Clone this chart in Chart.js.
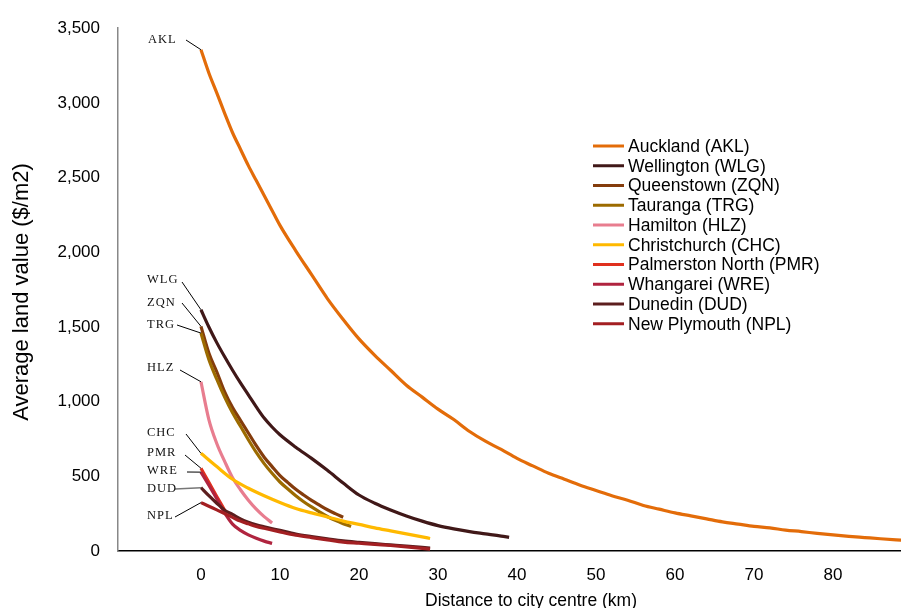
<!DOCTYPE html>
<html>
<head>
<meta charset="utf-8">
<script src="https://cdn.jsdelivr.net/npm/chart.js@4.4.1/dist/chart.umd.min.js"></script>
<style>
	html, body { margin: 0; padding: 0; background: #fff; }
	#wrap { width: 901px; height: 608px; }
</style>
</head>
<body>
<div id="wrap"><canvas id="chart" width="901" height="608"></canvas></div>
<script>
// distances (km) and average land values ($/m2)
const aklKm = [0,1,2,3,4,5,6,7,8,9,10,12,14,16,18,20,22,24,26,28,30,32,34,36,38,40,42,44,46,48,50,52,54,56,58,60,62,64,66,68,70,72,74,76,78,80,82,84,86,88,89];
const aklVal = [3356,3200,3067,2930,2800,2690,2580,2480,2380,2280,2180,2010,1850,1690,1550,1420,1310,1210,1110,1030,950,880,800,735,680,620,570,520,480,440,405,370,340,305,280,255,235,215,195,180,165,155,140,130,118,108,98,90,82,75,72];

const wlgKm = [0,1,2,3,4,5,6,7,8,9,10,12,14,16,18,20,22,24,26,28,30,32,34,36,38,39];
const wlgVal = [1615,1500,1395,1300,1210,1125,1045,965,890,830,778,695,620,540,455,375,320,275,235,200,170,148,130,115,100,91];

const zqnKm = [0,1,2,3,4,5,6,7,8,9,10,11,12,13,14,15,16,17,18];
const zqnVal = [1504,1325,1200,1065,960,875,790,705,628,565,505,458,413,375,339,307,276,250,226];

const trgKm = [0,1,2,3,4,5,6,7,8,9,10,11,12,13,14,15,16,17,18,19];
const trgVal = [1459,1282,1150,1030,925,835,745,660,585,520,462,415,370,330,295,262,231,205,183,164];

const hlzKm = [0,1,2,3,4,5,6,7,8,9];
const hlzVal = [1133,880,720,600,490,410,340,280,230,188];

const chcKm = [0,2,4,6,8,10,12,14,16,18,20,22,24,26,28,29];
const chcVal = [654,565,480,420,370,325,285,255,228,200,178,155,135,115,95,84];

const pmrKm = [0,1,2,3];
const pmrVal = [554,460,365,273];

const wreKm = [0,1,2,3,4,5,6,7,8,9];
const wreVal = [528,440,350,255,180,138,108,85,66,51];

const dudKm = [0,1,2,3,4,5,6,7,8,10,12,14,16,18,20,22,24,26,28,29];
const dudVal = [424,370,320,273,245,215,192,175,162,138,114,97,82,68,58,49,41,33,24,19];

const nplKm = [0,1,2,3,4,5,6,7,8,10,12,14,16,18,20,22,24,26,28,29];
const nplVal = [324,300,275,251,225,200,182,165,152,128,106,90,75,60,52,44,37,28,18,13];

const cityNames = ["Auckland (AKL)","Wellington (WLG)","Queenstown (ZQN)","Tauranga (TRG)","Hamilton (HLZ)","Christchurch (CHC)","Palmerston North (PMR)","Whangarei (WRE)","Dunedin (DUD)","New Plymouth (NPL)"];
const cityCodes = ["AKL","WLG","ZQN","TRG","HLZ","CHC","PMR","WRE","DUD","NPL"];
const cityColors = ["#E36C09","#401818","#843C0C","#9C6B00","#E87D8F","#FFB900","#E0301E","#B0243F","#5C1E1E","#A31F22"];
const kmLists = [aklKm, wlgKm, zqnKm, trgKm, hlzKm, chcKm, pmrKm, wreKm, dudKm, nplKm];
const valLists = [aklVal, wlgVal, zqnVal, trgVal, hlzVal, chcVal, pmrVal, wreVal, dudVal, nplVal];

const xTicks = [0,10,20,30,40,50,60,70,80];
const yTitle = "Average land value ($/m2)";
const xTitle = "Distance to city centre (km)";

// where the code labels sit and where their leader lines start
const labelSpots = [[148,40,186,40],[147,280,182,282],[147,303,182,303],[147,325,177,325],[147,368,180,370],[147,433,186,434],[147,453,185,455],[147,471,187,472],[147,489,175,489],[147,516,175,517]];

function toPoints(km, val) {
	return km.map((k, i) => {
		return { x: k, y: val[i] };
	});
}

let datasets = [];
cityNames.forEach((name, i) => {
	datasets.push({
		label: name,
		data: toPoints(kmLists[i], valLists[i]),
		borderColor: cityColors[i],
		backgroundColor: cityColors[i],
		borderWidth: 3.2,
		pointRadius: 0,
		cubicInterpolationMode: 'monotone',
		fill: false,
		order: 10 - i
	});
});

const overlay = {
	id: 'overlay',
	afterDraw(chart) {
		const ctx = chart.ctx;
		const xs = chart.scales.x;
		const ys = chart.scales.y;
		ctx.save();
		// leader lines + code labels
		cityCodes.forEach((code, i) => {
			const s = labelSpots[i];
			ctx.beginPath();
			ctx.strokeStyle = code == "DUD" ? "#777" : "#000";
			ctx.lineWidth = code == "DUD" ? 1.5 : 1;
			ctx.moveTo(s[2], s[3]);
			ctx.lineTo(xs.getPixelForValue(kmLists[i][0]), ys.getPixelForValue(valLists[i][0]));
			ctx.stroke();
			ctx.font = '12.5px "Liberation Serif", "Times New Roman", serif';
			ctx.letterSpacing = '1px';
			ctx.fillStyle = '#111';
			ctx.textAlign = 'left';
			ctx.textBaseline = 'middle';
			ctx.fillText(code, s[0], s[1]);
		});
		ctx.letterSpacing = '0px';
		// legend
		cityNames.forEach((name, i) => {
			const yy = 146 + i * 19.75;
			ctx.beginPath();
			ctx.strokeStyle = cityColors[i];
			ctx.lineWidth = 3;
			ctx.moveTo(593, yy);
			ctx.lineTo(624, yy);
			ctx.stroke();
			ctx.font = '17.5px "Liberation Sans", Arial, sans-serif';
			ctx.fillStyle = '#000';
			ctx.textAlign = 'left';
			ctx.textBaseline = 'middle';
			ctx.fillText(name, 628, yy + 1);
		});
		// axis titles
		ctx.font = '22px "Liberation Sans", Arial, sans-serif';
		ctx.textAlign = 'center';
		ctx.textBaseline = 'middle';
		ctx.translate(22, 292);
		ctx.rotate(-Math.PI / 2);
		ctx.fillText(yTitle, 0, 0);
		ctx.setTransform(1, 0, 0, 1, 0, 0);
		ctx.font = '17.5px "Liberation Sans", Arial, sans-serif';
		ctx.textBaseline = 'alphabetic';
		ctx.fillText(xTitle, 531, 606);
		ctx.restore();
	}
};

const tickFont = { family: '"Liberation Sans", Arial, sans-serif', size: 17 };

new Chart(document.getElementById('chart'), {
	type: 'line',
	data: { datasets: datasets },
	options: {
		responsive: false,
		animation: false,
		layout: { padding: { top: 25, left: 0, right: 0, bottom: 0 } },
		plugins: {
			legend: { display: false },
			tooltip: { enabled: false }
		},
		scales: {
			x: {
				type: 'linear',
				min: -10.5,
				max: 88.6,
				grid: { display: false, drawTicks: false },
				border: { display: true, color: '#000', width: 1.5 },
				ticks: { padding: 14, font: tickFont, color: '#000' },
				afterBuildTicks(axis) {
					axis.ticks = xTicks.map(v => ({ value: v }));
				},
				afterFit(axis) {
					axis.height = 57;
				}
			},
			y: {
				min: 0,
				max: 3500,
				grid: { display: false, drawTicks: false },
				border: { display: true, color: '#888', width: 1.5 },
				ticks: {
					stepSize: 500,
					padding: 18,
					font: tickFont,
					color: '#000',
					callback: v => v.toLocaleString('en-US')
				},
				afterFit(axis) {
					axis.width = 118;
				}
			}
		}
	},
	plugins: [overlay]
});
</script>
</body>
</html>
